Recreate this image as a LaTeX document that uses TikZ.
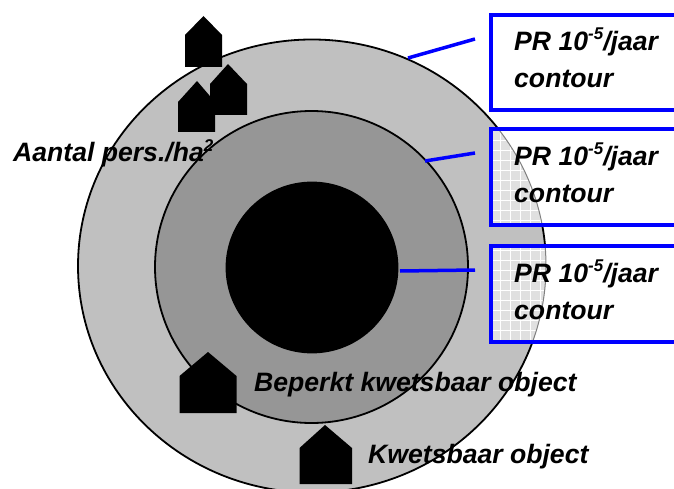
\documentclass[tikz,border=0pt]{standalone}
\usepackage{fontspec}
\setmainfont{Liberation Sans}
\definecolor{ringlight}{RGB}{192,192,192}
\definecolor{ringdark}{RGB}{150,150,150}
\definecolor{boxmesh}{RGB}{224,224,224}
\definecolor{boxblue}{RGB}{0,0,255}
\tikzstyle{pointer} = [draw=boxblue, line width=3.5pt]
\tikzstyle{ring} = [draw=black, line width=1.8pt]
\tikzstyle{label} = [font=\fontsize{26.6}{37}\selectfont\bfseries\itshape, inner sep=0pt, anchor=base west]
\tikzstyle{prlabel} = [label, align=left, anchor=north west]
\tikzstyle{house} = [fill=black]
\newcommand{\housedraw}[6]{% left, right, apex x, apex y, shoulder y, bottom y
  \fill[house] (#1,#6) -- (#1,#5) -- (#3,#4) -- (#2,#5) -- (#2,#6) -- cycle;}
\newcommand{\supnum}[1]{\raisebox{10.5pt}{\fontsize{17}{17}\selectfont #1}}
\newcommand{\prtext}{PR 10\supnum{-5}/jaar\\contour}
\begin{document}
\begin{tikzpicture}[x=1pt, y=-1pt]
\useasboundingbox (0,0) rectangle (674,489);
\clip (0,0) rectangle (674,489);

% Contour rings
\draw [ring, fill=ringlight] (312,266) ellipse [x radius=234, y radius=226.5];
\draw [ring, fill=ringdark] (311.5,267) ellipse [x radius=156.5, y radius=156];
\draw [ring, fill=black] (312,267.5) ellipse [x radius=85.5, y radius=85];

% Mesh inside the lower boxes
\foreach \boxtop/\boxbottom in {129/225, 246/342} {
  \begin{scope}
    \clip (491,\boxtop) rectangle (560,\boxbottom);
    \fill [white] (491,\boxtop) rectangle (560,\boxbottom);
    \begin{scope}
      \clip (312,266) ellipse [x radius=234, y radius=226.5];
      \fill [boxmesh] (491,\boxtop) rectangle (560,\boxbottom);
      \draw [white, line width=0.4pt, step=10pt] (490,120) grid (560,350);
    \end{scope}
    \draw [gray, line width=1pt] (312,266) ellipse [x radius=234, y radius=226.5];
  \end{scope}
}

% Boxes
\draw [draw=boxblue, line width=4pt] (491,15) rectangle (690,110);
\draw [draw=boxblue, line width=4pt] (491,129) rectangle (690,225);
\draw [draw=boxblue, line width=4pt] (491,246) rectangle (690,342);

% Pointers
\coordinate (ring1) at (408,58);
\coordinate (ring2) at (425,161);
\coordinate (ring3) at (400,271);
\coordinate (tip1) at (475,39);
\coordinate (tip2) at (475,153);
\coordinate (tip3) at (475,270);
\draw [pointer] (ring1) -- (tip1);
\draw [pointer] (ring2) -- (tip2);
\draw [pointer] (ring3) -- (tip3);

% Houses
\housedraw{185}{222}{203.5}{16}{35}{67}
\housedraw{210}{247}{228}{64}{84}{115}
\housedraw{178}{215}{197}{81}{102}{132}
\housedraw{179.5}{236.5}{208}{352}{376}{413}
\housedraw{299.5}{352}{325}{425}{448}{484}

% Labels
\node (pr1) [prlabel] at (514,28) {\prtext};
\node (pr2) [prlabel] at (514,143) {\prtext};
\node (pr3) [prlabel] at (514,260) {\prtext};
\node (density) [label] at (13,162) {Aantal pers./ha\supnum{2}};
\node (limited) [label] at (254,391) {Beperkt kwetsbaar object};
\node (vulnerable) [label] at (368,463) {Kwetsbaar object};

\end{tikzpicture}
\end{document}
